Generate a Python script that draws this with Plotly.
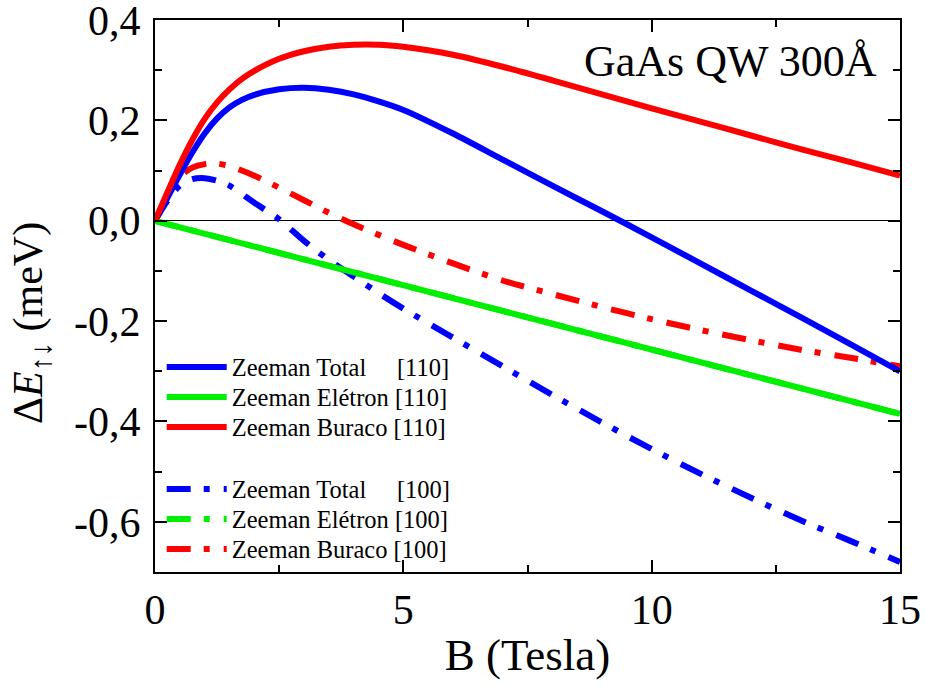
import plotly.graph_objects as go

# ---- data ----
B_110_total = [0, 0.25, 0.5, 0.75, 1.0, 1.25, 1.5, 1.75, 2.0, 2.5, 3.0, 3.5, 4.0, 4.5, 5.0, 6, 7, 8, 9, 10, 11, 12, 13, 14, 15]
E_110_total = [0, 0.046, 0.092, 0.136, 0.174, 0.204, 0.226, 0.241, 0.251, 0.262, 0.265, 0.261, 0.252, 0.238, 0.221,
               0.174, 0.122, 0.07, 0.019, -0.033, -0.086, -0.139, -0.192, -0.246, -0.30]

B_110_hole = [0, 0.25, 0.5, 0.75, 1.0, 1.25, 1.5, 1.75, 2.0, 2.5, 3.0, 3.5, 4.0, 4.5, 5.0, 5.5, 6, 7, 8, 9, 10, 11, 12, 13, 14, 15]
E_110_hole = [0, 0.057, 0.112, 0.161, 0.203, 0.236, 0.262, 0.283, 0.299, 0.323, 0.338, 0.347, 0.351, 0.351, 0.347,
              0.340, 0.331, 0.307, 0.28, 0.252, 0.224, 0.197, 0.170, 0.143, 0.117, 0.09]

B_electron = [0, 3, 6, 9, 12, 15]
E_110_electron = [0, -0.077, -0.154, -0.231, -0.308, -0.385]
E_100_electron = [0, -0.077, -0.154, -0.231, -0.308, -0.385]

B_100_total = [0, 0.25, 0.5, 0.75, 1.0, 1.25, 1.5, 2.0, 2.5, 3.0, 3.5, 4.0, 4.5, 5, 6, 7, 8, 9, 10, 11, 12, 13, 14, 15]
E_100_total = [0, 0.04, 0.07, 0.083, 0.085, 0.08, 0.07, 0.036, 0.003, -0.04, -0.078, -0.111, -0.144,
               -0.175, -0.233, -0.29, -0.347, -0.402, -0.455, -0.505, -0.552, -0.597, -0.638, -0.68]

B_100_hole = [0, 0.25, 0.5, 0.75, 1.0, 1.25, 1.5, 2.0, 2.5, 3.0, 3.5, 4.0, 5, 6, 7, 8, 9, 10, 11, 12, 13, 14, 15]
E_100_hole = [0, 0.05, 0.088, 0.106, 0.113, 0.114, 0.109, 0.09, 0.066, 0.041, 0.016, -0.007,
              -0.048, -0.085, -0.119, -0.146, -0.172, -0.196, -0.218, -0.238, -0.257, -0.273, -0.29]

y_tickvals = [-0.6, -0.4, -0.2, 0.0, 0.2, 0.4]
y_ticktext = ["-0,6", "-0,4", "-0,2", "0,0", "0,2", "0,4"]
y_minor = [-0.5, -0.3, -0.1, 0.1, 0.3]
x_tickvals = [0, 5, 10, 15]
x_minor = [2.5, 7.5, 12.5]

NB = "\u00a0"
names_110 = [f"Zeeman Total{NB*5}[110]", "Zeeman Elétron [110]", "Zeeman Buraco [110]"]
names_100 = [f"Zeeman Total{NB*5}[100]", "Zeeman Elétron [100]", "Zeeman Buraco [100]"]

BLUE, GREEN, RED = "#0000ff", "#00ee00", "#ff0000"
LW = 6
DD = "24px,13px,6px,14px"
FONT = "Liberation Serif, Times New Roman, Times, serif"

series = [
    # (x, y, name, color, dash, spline, legend id)
    (B_100_total, E_100_total, names_100[0], BLUE, DD, True, "legend4"),
    (B_electron, E_100_electron, names_100[1], GREEN, DD, False, "legend5"),
    (B_100_hole, E_100_hole, names_100[2], RED, DD, True, "legend6"),
    (B_110_total, E_110_total, names_110[0], BLUE, "solid", True, "legend"),
    (B_electron, E_110_electron, names_110[1], GREEN, "solid", False, "legend2"),
    (B_110_hole, E_110_hole, names_110[2], RED, "solid", True, "legend3"),
]

fig = go.Figure()
for xs, ys, nm, col, dash, spl, lg in series:
    line = dict(color=col, width=LW, dash=dash)
    if spl:
        line.update(shape="spline", smoothing=0.8)
    fig.add_trace(go.Scatter(x=xs, y=ys, mode="lines", name=nm, line=line, legend=lg, showlegend=True))

axis_common = dict(showgrid=False, showline=True, linecolor="black", linewidth=2, mirror="ticks",
                   ticks="inside", ticklen=12, tickwidth=2, tickcolor="black", automargin=False,
                   ticklabeloverflow="allow",
                   tickfont=dict(family=FONT, size=42, color="black"))

# legend row centres (pixels from top of figure)
legend_rows = {"legend": 367, "legend2": 397, "legend3": 427,
               "legend4": 489, "legend5": 519, "legend6": 549}
plot_top, plot_bottom = 20, 572
legend_layout = {}
for key, ypx in legend_rows.items():
    legend_layout[key] = dict(x=0.009, y=(plot_bottom - ypx) / (plot_bottom - plot_top),
                              xanchor="left", yanchor="middle", bgcolor="rgba(0,0,0,0)",
                              font=dict(family=FONT, size=24.5, color="black"), itemwidth=60)

fig.update_layout(
    width=925, height=686,
    margin=dict(l=155, r=25, t=20, b=114, autoexpand=False),
    showlegend=True,
    plot_bgcolor="white", paper_bgcolor="white",
    font=dict(family=FONT, color="black"),
    xaxis=dict(range=[0, 15], tickmode="array", tickvals=x_tickvals,
               minor=dict(tickmode="array", tickvals=x_minor, ticklen=7, tickwidth=2, tickcolor="black", ticks="inside"),
               title=dict(text="B (Tesla)", font=dict(family=FONT, size=45), standoff=6),
               zeroline=False, **axis_common),
    yaxis=dict(range=[-0.7, 0.4002], tickmode="array", tickvals=y_tickvals, ticktext=y_ticktext,
               minor=dict(tickmode="array", tickvals=y_minor, ticklen=7, tickwidth=2, tickcolor="black", ticks="inside"),
               zeroline=True, zerolinecolor="black", zerolinewidth=1, ticklabelstandoff=4,
               **axis_common),
    annotations=[
        dict(text="GaAs QW 300Å", xref="paper", yref="paper", x=0.972, y=0.924,
             xanchor="right", yanchor="middle", showarrow=False,
             font=dict(family=FONT, size=44, color="black")),
        dict(text="Δ<i>E</i><sub>↑↓</sub> (meV)",
             xref="paper", yref="paper",
             x=(31 - 155) / 745, y=(572 - 323) / 552, textangle=-90,
             xanchor="center", yanchor="middle", showarrow=False,
             font=dict(family=FONT, size=42, color="black")),
    ],
    **legend_layout,
)

fig.write_html("out.html")
